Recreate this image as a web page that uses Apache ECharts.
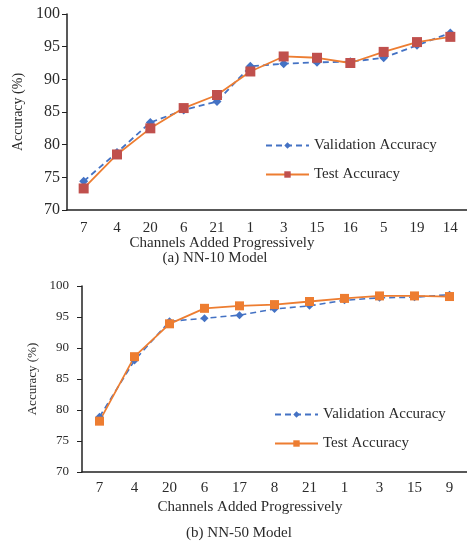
<!DOCTYPE html>
<html>
<head>
<meta charset="utf-8">
<script src="https://cdn.jsdelivr.net/npm/echarts@6/dist/echarts.min.js"></script>
<style>
  html, body { margin: 0; padding: 0; background: #fff; }
  #main { width: 467px; height: 542px; }
</style>
</head>
<body>
<div id="main"></div>
<script>
// data
var catsA = ['7', '4', '20', '6', '21', '1', '3', '15', '16', '5', '19', '14'];
var valA = [74.4, 78.8, 83.4, 85.3, 86.6, 92.0, 92.4, 92.6, 92.7, 93.3, 95.2, 97.1];
var testA = [73.3, 78.5, 82.5, 85.6, 87.6, 91.2, 93.5, 93.3, 92.5, 94.2, 95.7, 96.5];

var catsB = ['7', '4', '20', '6', '17', '8', '21', '1', '3', '15', '9'];
var valB = [78.9, 88.0, 94.3, 94.8, 95.3, 96.3, 96.8, 97.7, 98.1, 98.2, 98.6];
var testB = [78.2, 88.6, 93.9, 96.4, 96.8, 97.0, 97.5, 98.0, 98.4, 98.4, 98.3];

var yTicks = [70, 75, 80, 85, 90, 95, 100];

var FONT = '"Liberation Serif", "DejaVu Serif", serif';
var TXT = '#2b2b2b';
var BLUE = '#4472C4';
var ORANGE = '#ED7D31';
var RED = '#C0504D';

var myChart = echarts.init(document.getElementById('main'));

function yAxisCfg(idx, size, margin) {
  return {
    type: 'value', gridIndex: idx,
    min: yTicks[0], max: yTicks[yTicks.length - 1], interval: 5,
    name: 'Accuracy (%)', nameLocation: 'middle', nameGap: 40, nameRotate: 90,
    nameTextStyle: { fontFamily: FONT, fontSize: idx === 0 ? 14 : 13, color: TXT },
    axisLine: { show: true, lineStyle: { color: '#222', width: 1.5 } },
    axisTick: { show: true, length: 5, lineStyle: { color: '#222' } },
    axisLabel: { fontFamily: FONT, fontSize: size, color: TXT, margin: margin },
    splitLine: { show: false }
  };
}

function xAxisCfg(idx, cats, margin) {
  return {
    type: 'category', gridIndex: idx, data: cats, boundaryGap: true,
    axisLine: { lineStyle: { color: '#222', width: 1.5 } },
    axisTick: { show: false },
    axisLabel: { fontFamily: FONT, fontSize: 15, color: TXT, margin: margin, interval: 0 }
  };
}

function legendCfg(prefix, left, top) {
  return {
    data: [prefix + 'Validation Accuracy', prefix + 'Test Accuracy'],
    orient: 'vertical', left: left, top: top,
    itemWidth: 43, itemHeight: 8, itemGap: 14,
    formatter: function (n) { return n.slice(2); },
    textStyle: { fontFamily: FONT, fontSize: 15, color: TXT }
  };
}

var option = {
  animation: false,
  backgroundColor: '#fff',
  grid: [
    { left: 67, top: 14, width: 408, height: 196 },
    { left: 82, top: 286, width: 394, height: 186 }
  ],
  xAxis: [xAxisCfg(0, catsA, 11), xAxisCfg(1, catsB, 9)],
  yAxis: [yAxisCfg(0, 16, 7), yAxisCfg(1, 13, 13)],
  legend: [legendCfg('a:', 260, 133), legendCfg('b:', 269, 402)],
  graphic: [
    { type: 'text', x: 222, y: 243, style: { text: 'Channels Added Progressively', font: '15px ' + FONT, fill: TXT, align: 'center', verticalAlign: 'middle' } },
    { type: 'text', x: 215, y: 258, style: { text: '(a) NN-10 Model', font: '15px ' + FONT, fill: TXT, align: 'center', verticalAlign: 'middle' } },
    { type: 'text', x: 250, y: 507, style: { text: 'Channels Added Progressively', font: '15px ' + FONT, fill: TXT, align: 'center', verticalAlign: 'middle' } },
    { type: 'text', x: 239, y: 533, style: { text: '(b) NN-50 Model', font: '15px ' + FONT, fill: TXT, align: 'center', verticalAlign: 'middle' } }
  ],
  series: [
    {
      name: 'a:Validation Accuracy', type: 'line', xAxisIndex: 0, yAxisIndex: 0, data: valA,
      symbol: 'diamond', symbolSize: 9,
      itemStyle: { color: BLUE },
      lineStyle: { color: BLUE, width: 1.8, type: [6, 4] }
    },
    {
      name: 'a:Test Accuracy', type: 'line', xAxisIndex: 0, yAxisIndex: 0, data: testA,
      symbol: 'rect', symbolSize: 10,
      itemStyle: { color: RED },
      lineStyle: { color: ORANGE, width: 1.8 }
    },
    {
      name: 'b:Validation Accuracy', type: 'line', xAxisIndex: 1, yAxisIndex: 1, data: valB,
      symbol: 'diamond', symbolSize: 8,
      itemStyle: { color: BLUE },
      lineStyle: { color: BLUE, width: 1.6, type: [6, 4] }
    },
    {
      name: 'b:Test Accuracy', type: 'line', xAxisIndex: 1, yAxisIndex: 1, data: testB,
      symbol: 'rect', symbolSize: 9,
      itemStyle: { color: ORANGE },
      lineStyle: { color: ORANGE, width: 1.8 }
    }
  ]
};

myChart.setOption(option);
</script>
</body>
</html>
